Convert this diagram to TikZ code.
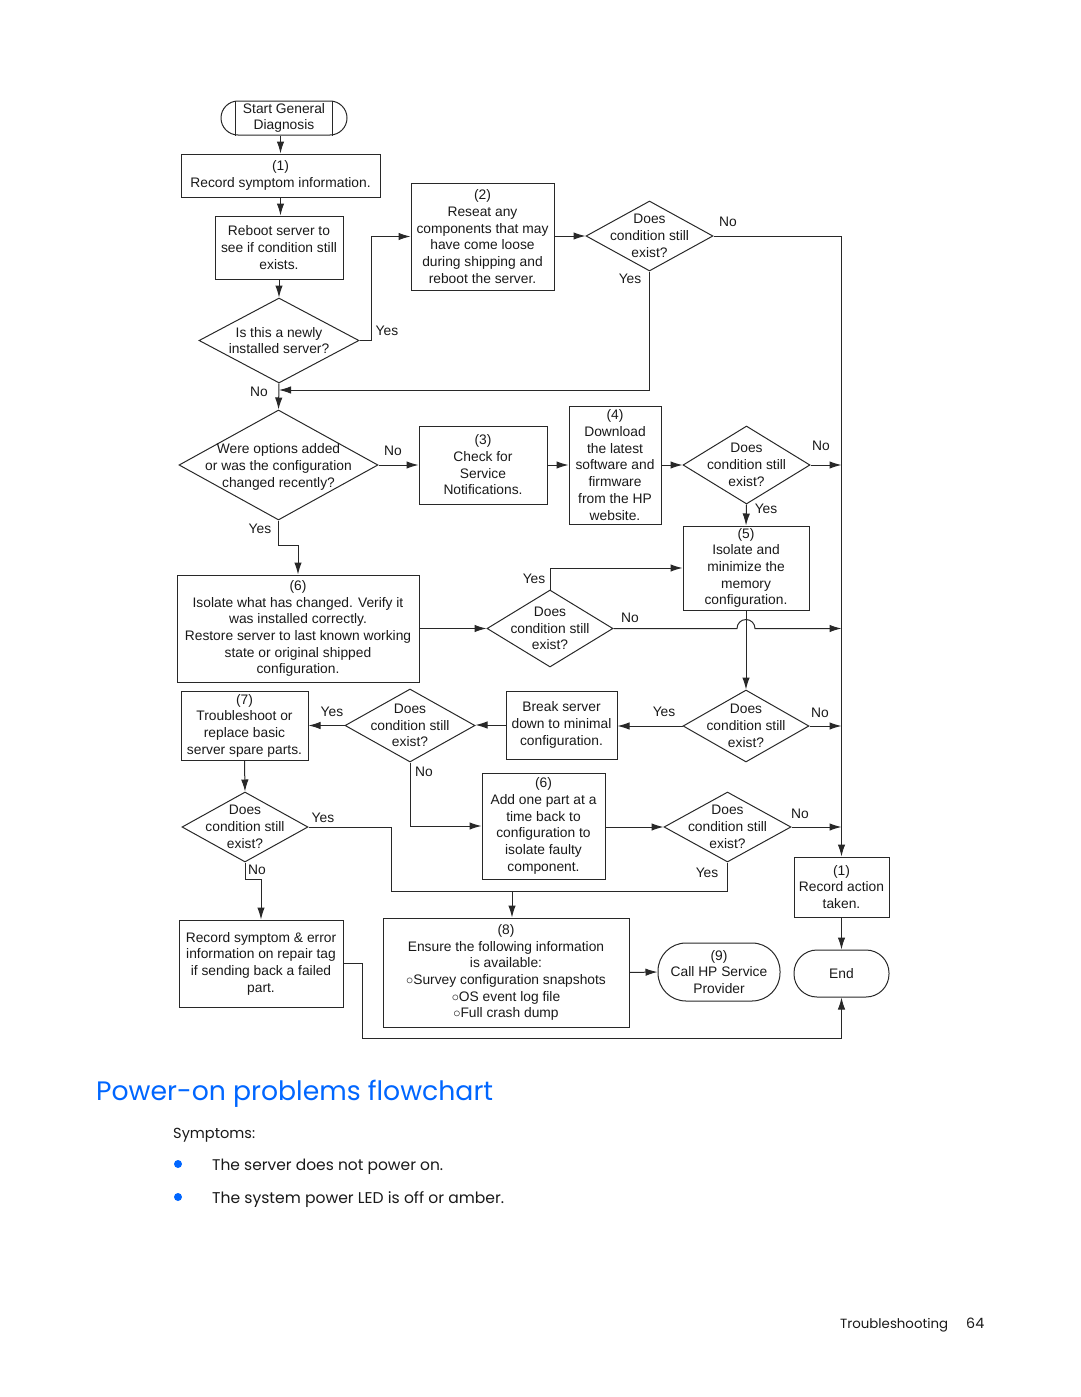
\documentclass[tikz,border=0pt]{standalone}
\usepackage{fontspec}
\setmainfont{Liberation Sans}
\newfontfamily\hpfont{Poppins}
\usetikzlibrary{shapes.geometric,arrows.meta,calc}
\definecolor{hpblue}{RGB}{0,102,255}
\definecolor{lc}{RGB}{40,40,40}
\begin{document}
\begin{tikzpicture}[x=1pt,y=-1pt,
  every node/.style={font=\fontsize{13.8}{16.7}\selectfont, text=black!90},
  box/.style={draw=lc, line width=1pt, rectangle, inner sep=0pt, align=center},
  dia/.style={draw=lc, line width=1pt, diamond, inner sep=0pt},
  term/.style={draw=lc, line width=1pt, rectangle, inner sep=0pt, align=center},
  txt/.style={align=center, inner sep=0pt},
  lbl/.style={inner sep=0pt},
  arr/.style={draw=lc, line width=1pt, -{Latex[length=12pt,width=7.5pt]}},
  conn/.style={draw=lc, line width=1pt},
  foot/.style={anchor=base west, inner sep=0pt, font=\hpfont},
]
\useasboundingbox (0,0) rectangle (1080,1397);

% ---- terminators
\node[term, rounded corners=17pt, minimum width=126pt, minimum height=34pt] (start) at (284,118) {Start General\\Diagnosis};
\draw[conn] ($(start.north west)+(15,0)$) -- ($(start.south west)+(15,0)$);
\draw[conn] ($(start.north east)+(-15,0)$) -- ($(start.south east)+(-15,0)$);
\node[term, rounded corners=28pt, minimum width=122pt, minimum height=58pt] (call) at (719,972) {(9)\\Call HP Service\\Provider};
\node[term, rounded corners=23pt, minimum width=95pt, minimum height=47pt] (endt) at (841.5,973.5) {End};

% ---- boxes
\node[box, minimum width=199pt, minimum height=43pt] (box1) at (280.5,175.5) {(1)\\Record symptom information.};
\node[box, minimum width=128pt, minimum height=63pt] (reboot) at (279,247.5) {Reboot server to\\see if condition still\\exists.};
\node[box, minimum width=143pt, minimum height=107pt] (box2) at (482.5,236.5) {(2)\\Reseat any\\components that may\\have come loose\\during shipping and\\reboot the server.};
\node[box, minimum width=128pt, minimum height=78pt] (box3) at (483,465) {(3)\\Check for\\Service\\Notifications.};
\node[box, minimum width=92pt, minimum height=118pt] (box4) at (615,465) {(4)\\Download\\the latest\\software and\\firmware\\from the HP\\website.};
\node[box, minimum width=126pt, minimum height=84pt] (box5) at (746,568) {(5)\\Isolate and\\minimize the\\memory\\configuration.};
\node[box, minimum width=242pt, minimum height=107pt] (box6a) at (298,628.5) {(6)\\Isolate what has changed. Verify it\\was installed correctly.\\Restore server to last known working\\state or original shipped\\configuration.};
\node[box, minimum width=111pt, minimum height=68pt] (brk) at (561.5,725) {Break server\\down to minimal\\configuration.};
\node[box, minimum width=127pt, minimum height=69pt] (box7) at (244.5,725.5) {(7)\\Troubleshoot or\\replace basic\\server spare parts.};
\node[box, minimum width=123pt, minimum height=106pt] (box6b) at (543.5,826) {(6)\\Add one part at a\\time back to\\configuration to\\isolate faulty\\component.};
\node[box, minimum width=95pt, minimum height=60pt] (recact) at (841.5,887) {(1)\\Record action\\taken.};
\node[box, minimum width=246pt, minimum height=109pt] (box8) at (506,972.5) {(8)\\Ensure the following information\\is available:\\$\circ$Survey configuration snapshots\\$\circ$OS event log file\\$\circ$Full crash dump};
\node[box, minimum width=164pt, minimum height=87pt] (recsym) at (261,963.5) {Record symptom \& error\\information on repair tag\\if sending back a failed\\part.};

% ---- diamonds
\node[dia, minimum width=160pt, minimum height=85pt] (dq) at (279,340.5) {};
\node[txt] at (dq) {Is this a newly\\installed server?};
\node[dia, minimum width=127pt, minimum height=70pt] (d1) at (649.5,236) {};
\node[txt] at (d1) {Does\\condition still\\exist?};
\node[dia, minimum width=199pt, minimum height=110pt] (d2) at (278.5,465) {};
\node[txt] at ($(d2)+(0,2)$) {Were options added\\or was the configuration\\changed recently?};
\node[dia, minimum width=127pt, minimum height=78pt] (d3) at (746.5,465) {};
\node[txt] at (d3) {Does\\condition still\\exist?};
\node[dia, minimum width=126pt, minimum height=77pt] (d4) at (550,628.5) {};
\node[txt] at (d4) {Does\\condition still\\exist?};
\node[dia, minimum width=126pt, minimum height=72pt] (d5) at (746,726) {};
\node[txt] at (d5) {Does\\condition still\\exist?};
\node[dia, minimum width=130pt, minimum height=73pt] (d6) at (410,725.5) {};
\node[txt] at (d6) {Does\\condition still\\exist?};
\node[dia, minimum width=126pt, minimum height=70pt] (d7) at (245,827) {};
\node[txt] at (d7) {Does\\condition still\\exist?};
\node[dia, minimum width=127pt, minimum height=70pt] (d8) at (727.5,827) {};
\node[txt] at (d8) {Does\\condition still\\exist?};

% ---- helper coordinates
\coordinate (j1) at (279,390);
\coordinate (jy) at (391,891);
\coordinate (bot) at (362,1038);
\coordinate (b8top) at ($(box8.north)+(6,0)$);

% ---- connectors
\draw[arr] (start.south -| box1.north) -- (box1.north);
\draw[arr] (box1.south) -- (box1.south |- reboot.north);
\draw[arr] (reboot.south) -- (dq.north);
\draw[arr] (dq.east) -- ++(12,0) |- (box2.west);
\draw[arr] (box2.east |- d1.west) -- (d1.west);
\draw[arr] (d1.east) -- (d1.east -| recact.north) -- (recact.north);
\draw[arr] (d1.south) |- (j1);
\draw[arr] (dq.south) -- (d2.north);
\draw[arr] (d2.east) -- (box3.west);
\draw[arr] (box3.east) -- (box4.west);
\draw[arr] (box4.east) -- (d3.west);
\draw[arr] (d3.east) -- (d3.east -| recact.north);
\draw[arr] (d3.south) -- (box5.north);
\draw[arr] (d2.south) -- ++(0,25) -| (box6a.north);
\draw[arr] (box6a.east) -- (d4.west);
\draw[arr] (d4.north) |- (box5.west);
\draw[arr] (d4.east) -- (737,628.5) arc[start angle=180, end angle=360, radius=9] -- (d4.east -| recact.north);
\draw[arr] (box5.south) -- (d5.north);
\draw[arr] (d5.west) -- (d5.west -| brk.east);
\draw[arr] (d5.east) -- (d5.east -| recact.north);
\draw[arr] (brk.west) -- (brk.west -| d6.east);
\draw[arr] (d6.west) -- (d6.west -| box7.east);
\draw[arr] (d6.south) |- (box6b.west);
\draw[arr] (box7.south) -- (d7.north);
\draw[arr] (box6b.east |- d8.west) -- (d8.west);
\draw[arr] (d8.east) -- (d8.east -| recact.north);
\draw[conn] (d7.east) -| (jy);
\draw[conn] (d8.south) |- (jy);
\draw[arr] (b8top |- jy) -- (b8top);
\draw[arr] (d7.south) -- ++(0,17) -| (recsym.north);
\draw[arr] (box8.east) -- (call.west);
\draw[arr] (recact.south) -- (endt.north);
\draw[arr] (recsym.east) -| (bot) -| (endt.south);

% ---- labels
\node[lbl] at (387,331) {Yes};
\node[lbl] at (728,222) {No};
\node[lbl] at (630,279) {Yes};
\node[lbl] at (259,392) {No};
\node[lbl] at (393,451) {No};
\node[lbl] at (260,529) {Yes};
\node[lbl] at (821,446) {No};
\node[lbl] at (766,509) {Yes};
\node[lbl] at (534,579) {Yes};
\node[lbl] at (630,618) {No};
\node[lbl] at (664,712) {Yes};
\node[lbl] at (820,713) {No};
\node[lbl] at (332,712) {Yes};
\node[lbl] at (424,772) {No};
\node[lbl] at (323,818) {Yes};
\node[lbl] at (257,870) {No};
\node[lbl] at (800,814) {No};
\node[lbl] at (707,873) {Yes};

% ---- page text
\node[foot, text=hpblue] (title) at (96,1100) {\resizebox{397pt}{!}{Power-on problems flowchart}};
\node[foot] (sym) at (173,1138) {\resizebox{82pt}{!}{Symptoms:}};
\node[foot] (l1) at (212,1170) {\resizebox{231pt}{!}{The server does not power on.}};
\node[foot] (l2) at (212,1203) {\resizebox{292pt}{!}{The system power LED is off or amber.}};
\fill[hpblue] (178,1164) circle[radius=4];
\fill[hpblue] (178,1197) circle[radius=4];
\node[foot] (ft1) at (840,1328) {\resizebox{108pt}{!}{Troubleshooting}};
\node[foot] (ft2) at (966,1328) {\resizebox{18pt}{!}{64}};
\end{tikzpicture}
\end{document}
